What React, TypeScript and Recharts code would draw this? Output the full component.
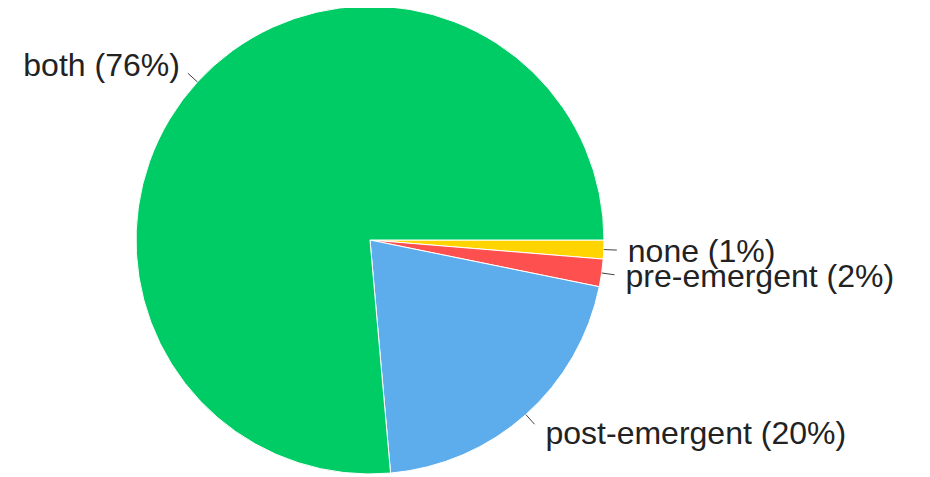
import { PieChart, Pie, Cell } from 'recharts';

const categories = ['none', 'pre-emergent', 'post-emergent', 'both'];
const shares = [1.3, 1.9, 20.4, 76.4];
const sliceColors = ['#FFD400', '#FF5050', '#5DADEC', '#00CC66'];

const data = categories.map((name, i) => ({ name, value: shares[i] }));

const RAD = Math.PI / 180;

const renderLabel = (props: any) => {
    const { cx, cy, midAngle, outerRadius, percent, name } = props;
    const cos = Math.cos(-midAngle * RAD);
    const sin = Math.sin(-midAngle * RAD);
    const sx = cx + outerRadius * cos;
    const sy = cy + outerRadius * sin;
    const ex = cx + (outerRadius + 13) * cos;
    const ey = cy + (outerRadius + 13) * sin;
    const right = cos >= 0;
    const tx = ex + (right ? 11 : -8);
    const ty = ey + 11 + 12 * sin;
    return (
        <g>
            <path d={`M${sx},${sy}L${ex},${ey}`} stroke="#444" strokeWidth={1} fill="none" />
            <text
                x={tx}
                y={ty}
                textAnchor={right ? 'start' : 'end'}
                fill="#222"
                fontSize={32}
                fontFamily="'Liberation Sans', Arial, sans-serif"
            >
                {`${name} (${Math.round(percent * 100)}%)`}
            </text>
        </g>
    );
};

const App = () => {
    return (
        <PieChart width={922} height={469}>
            <Pie
                data={data}
                dataKey="value"
                nameKey="name"
                cx={357}
                cy={227}
                outerRadius={234}
                startAngle={0}
                endAngle={-360}
                stroke="#fff"
                strokeWidth={1}
                label={renderLabel}
                labelLine={false}
                isAnimationActive={false}
            >
                {data.map((entry, index) => (
                    <Cell key={`cell-${index}`} fill={sliceColors[index]} />
                ))}
            </Pie>
        </PieChart>
    );
};

export default App;
